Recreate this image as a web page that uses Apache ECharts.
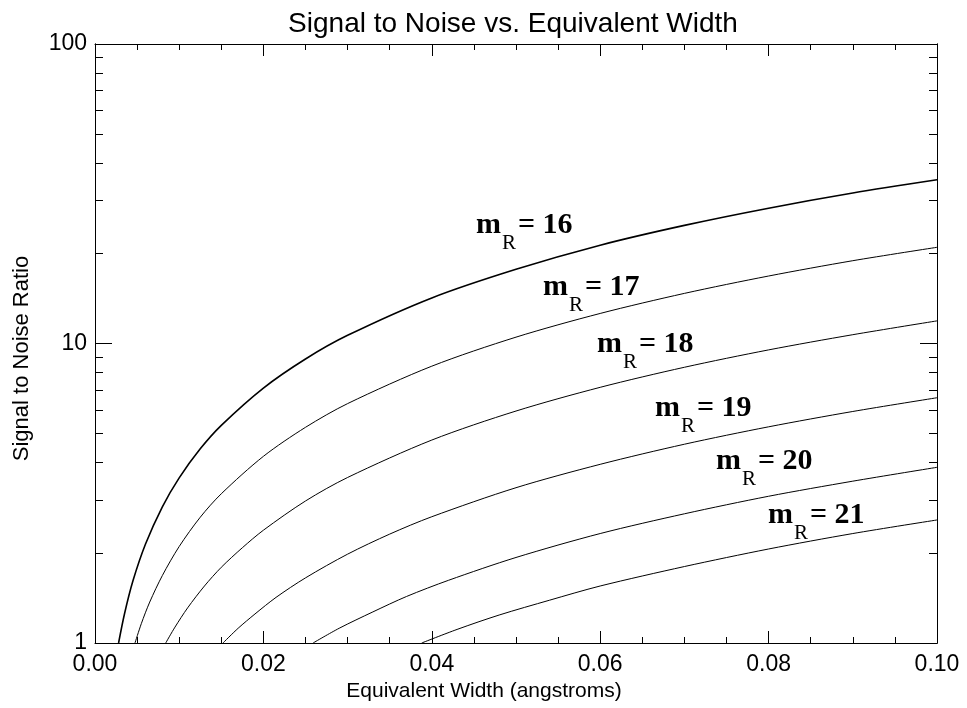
<!DOCTYPE html>
<html>
<head>
<meta charset="utf-8">
<script src="https://cdn.jsdelivr.net/npm/echarts@6/dist/echarts.min.js"></script>
<style>html,body{margin:0;padding:0;background:#fff}#c{width:967px;height:708px}</style>
</head>
<body>
<div id="c"></div>
<script>
// Data (equivalent width in angstroms, S/N)
const ew16 = [0.0028, 0.0035, 0.0045, 0.006, 0.008, 0.010, 0.0125, 0.015, 0.02, 0.025, 0.03, 0.04, 0.05, 0.06, 0.07, 0.08, 0.09, 0.10];
const sn16 = [1.00, 1.25, 1.61, 2.14, 2.85, 3.56, 4.45, 5.33, 7.10, 8.88, 10.65, 14.2, 17.7, 21.3, 24.8, 28.3, 31.8, 35.2];
const ew17 = [0.00475, 0.0055, 0.0065, 0.008, 0.010, 0.0125, 0.015, 0.02, 0.025, 0.03, 0.04, 0.05, 0.06, 0.07, 0.08, 0.09, 0.10];
const sn17 = [1.00, 1.16, 1.37, 1.68, 2.10, 2.63, 3.15, 4.20, 5.25, 6.30, 8.40, 10.5, 12.6, 14.7, 16.8, 18.9, 20.95];
const ew18 = [0.0084, 0.0095, 0.011, 0.013, 0.015, 0.0175, 0.02, 0.025, 0.03, 0.04, 0.05, 0.06, 0.07, 0.08, 0.09, 0.10];
const sn18 = [1.00, 1.13, 1.31, 1.55, 1.79, 2.08, 2.38, 2.98, 3.57, 4.76, 5.95, 7.14, 8.33, 9.52, 10.7, 11.9];
const ew19 = [0.0152, 0.017, 0.019, 0.0215, 0.025, 0.03, 0.035, 0.04, 0.05, 0.06, 0.07, 0.08, 0.09, 0.10];
const sn19 = [1.00, 1.12, 1.25, 1.42, 1.65, 1.98, 2.31, 2.64, 3.30, 3.95, 4.61, 5.27, 5.93, 6.59];
const ew20 = [0.0259, 0.029, 0.033, 0.037, 0.042, 0.05, 0.06, 0.07, 0.08, 0.09, 0.10];
const sn20 = [1.00, 1.12, 1.27, 1.43, 1.62, 1.93, 2.32, 2.70, 3.09, 3.47, 3.86];
const ew21 = [0.0388, 0.043, 0.048, 0.054, 0.06, 0.07, 0.08, 0.09, 0.10];
const sn21 = [1.00, 1.11, 1.24, 1.39, 1.55, 1.80, 2.06, 2.32, 2.575];

const curveNames = ['16', '17', '18', '19', '20', '21'];
const yMajorTicks = [1, 10, 100];
const yMinorTicks = [2, 3, 4, 5, 6, 7, 8, 9, 20, 30, 40, 50, 60, 70, 80, 90];
const xTickLabels = ['0.00', '0.02', '0.04', '0.06', '0.08', '0.10'];

const curves = [[ew16, sn16], [ew17, sn17], [ew18, sn18], [ew19, sn19], [ew20, sn20], [ew21, sn21]];

const SANS = '"Liberation Sans", Arial, Helvetica, sans-serif';
const SERIF = '"Liberation Serif", "Times New Roman", serif';
const BLACK = '#000';

function xAxisDef(pos, labels) {
  return {
    type: 'value', position: pos, min: 0, max: 0.1, interval: 0.02,
    axisLine: { show: true, onZero: false, lineStyle: { color: BLACK, width: 1 } },
    axisTick: { show: true, inside: true, length: 12, lineStyle: { color: BLACK, width: 1 } },
    minorTick: { show: true, splitNumber: 4, length: 6, lineStyle: { color: BLACK, width: 1 } },
    splitLine: { show: false }, minorSplitLine: { show: false },
    axisLabel: labels ? {
      show: true, margin: 10, fontSize: 23, color: BLACK, fontFamily: SANS,
      formatter: v => xTickLabels[Math.round(v / 0.02)]
    } : { show: false },
    name: labels ? 'Equivalent Width (angstroms)' : '',
    nameLocation: 'middle', nameGap: 30,
    nameTextStyle: { fontSize: 21, color: BLACK, fontFamily: SANS, padding: [0, 64, 0, 0] }
  };
}
function yAxisDef(pos, major, labels) {
  return {
    type: 'log', logBase: 10, position: pos, min: 1, max: 100,
    axisLine: { show: true, onZero: false, lineStyle: { color: BLACK, width: 1 } },
    axisTick: { show: true, inside: true, length: major ? 17 : 8, customValues: major ? yMajorTicks : yMinorTicks, lineStyle: { color: BLACK, width: 1 } },
    minorTick: { show: false },
    splitLine: { show: false },
    axisLabel: labels ? { show: true, margin: 8, fontSize: 23, color: BLACK, fontFamily: SANS, customValues: yMajorTicks, formatter: v => String(Math.round(v)) } : { show: false },
    name: labels ? 'Signal to Noise Ratio' : '',
    nameLocation: 'middle', nameGap: 62, nameRotate: 90,
    nameTextStyle: { fontSize: 22, color: BLACK, fontFamily: SANS, padding: [0, 30, 0, 0] }
  };
}

const series = curves.map((c, i) => ({
  type: 'line', xAxisIndex: 0, yAxisIndex: 0,
  data: c[0].map((x, j) => [x, c[1][j]]),
  showSymbol: false, symbol: 'none', smooth: 0.3,
  lineStyle: { color: BLACK, width: i === 0 ? 1.6 : 1 },
  silent: true, animation: false
}));

// label anchor positions (pixel, left of "m" and its baseline)
const labelPos = [[476, 240], [543, 302], [597, 359], [655, 423], [716, 476], [768, 530]];
const graphics = labelPos.map((p, i) => ({
  type: 'group', x: p[0], y: p[1],
  children: [
    { type: 'text', x: 0, y: 0, style: { text: 'm', font: 'bold 30px ' + SERIF, fill: BLACK, verticalAlign: 'bottom', align: 'left' } },
    { type: 'text', x: 26, y: 14, style: { text: 'R', font: '21px ' + SERIF, fill: BLACK, verticalAlign: 'bottom', align: 'left' } },
    { type: 'text', x: 42, y: 0, style: { text: '= ' + curveNames[i], font: 'bold 30px ' + SERIF, fill: BLACK, verticalAlign: 'bottom', align: 'left' } }
  ]
}));

const chart = echarts.init(document.getElementById('c'), null, { renderer: 'canvas' });
chart.setOption({
  backgroundColor: '#fff',
  animation: false,
  title: {
    text: 'Signal to Noise vs. Equivalent Width', left: 508, top: 5, textAlign: 'center',
    textStyle: { fontSize: 28, fontWeight: 'normal', color: BLACK, fontFamily: SANS }
  },
  grid: { left: 95, right: 30, top: 44, bottom: 65, containLabel: false },
  xAxis: [xAxisDef('bottom', true), xAxisDef('top', false)],
  yAxis: [yAxisDef('left', true, true), yAxisDef('left', false, false), yAxisDef('right', true, false), yAxisDef('right', false, false)],
  series: series,
  graphic: graphics
});
</script>
</body>
</html>
